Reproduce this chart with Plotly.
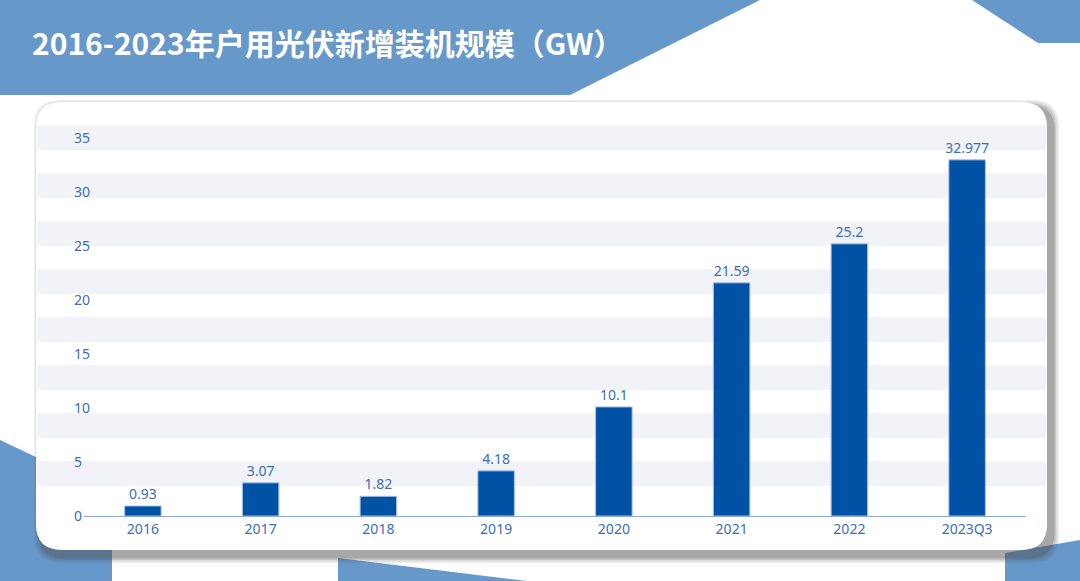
import plotly.graph_objects as go

# ---- data ----
categories = ["2016", "2017", "2018", "2019", "2020", "2021", "2022", "2023Q3"]
values = [0.93, 3.07, 1.82, 4.18, 10.1, 21.59, 25.2, 32.977]
value_labels = ["0.93", "3.07", "1.82", "4.18", "10.1", "21.59", "25.2", "32.977"]
y_ticks = [0, 5, 10, 15, 20, 25, 30, 35]
title_text = "2016-2023年户用光伏新增装机规模（GW）"

W, H = 1080, 581
BANNER = "#6798CA"
BAR = "#0052A5"
TXT = "#3D6DBE"


def px(x):
    return x / W


def py(y):
    return 1 - y / H


def poly(points, color, opacity=1.0):
    d = "M " + " L ".join(f"{px(x)},{py(y)}" for x, y in points) + " Z"
    return dict(type="path", path=d, xref="paper", yref="paper", fillcolor=color,
                line=dict(width=0), layer="below", opacity=opacity)


def rrect(x0, y0, x1, y1, r, color, opacity=1.0):
    rx, ry = r / W, r / H
    X0, X1 = px(x0), px(x1)
    Y0, Y1 = py(y1), py(y0)
    d = (f"M {X0+rx},{Y1} L {X1-rx},{Y1} Q {X1},{Y1} {X1},{Y1-ry} "
         f"L {X1},{Y0+ry} Q {X1},{Y0} {X1-rx},{Y0} "
         f"L {X0+rx},{Y0} Q {X0},{Y0} {X0},{Y0+ry} "
         f"L {X0},{Y1-ry} Q {X0},{Y1} {X0+rx},{Y1} Z")
    return dict(type="path", path=d, xref="paper", yref="paper", fillcolor=color,
                line=dict(width=0), layer="below", opacity=opacity)


shapes = []
# background blue decorations
shapes.append(poly([(0, 0), (760, 0), (570, 95), (0, 95)], BANNER))
shapes.append(poly([(972, 0), (1080, 0), (1080, 43), (1038, 43)], BANNER))
shapes.append(poly([(0, 440), (112, 493), (112, 581), (0, 581)], BANNER))
shapes.append(poly([(338, 558), (527, 581), (338, 581)], BANNER))
shapes.append(poly([(1005, 553), (1080, 540), (1080, 581), (1005, 581)], BANNER))

# card shadow
for i, op in enumerate([0.10, 0.12, 0.16, 0.24]):
    g = 6 - i * 1.5
    shapes.append(rrect(36 + 4 - g, 102 + 4 - g, 1047 + 6 + g, 550 + 7 + g, 26, "#505050", op))
# card
shapes.append(rrect(36, 102, 1047, 550, 26, "#FFFFFF"))
# stripes
for k in range(8):
    top = 125 + k * 48
    shapes.append(dict(type="rect", xref="paper", yref="paper",
                       x0=px(37), x1=px(1046), y0=py(top + 25), y1=py(top),
                       fillcolor="#F2F3F8", line=dict(width=0), layer="below"))

baseline_px = 516
unit = 10.8
y_top_val = 36
y_low_val = -1.3
y_top_px = baseline_px - y_top_val * unit
y_bot_px = baseline_px - y_low_val * unit

fig = go.Figure()
fig.add_trace(go.Bar(
    x=categories, y=values, text=value_labels, textposition="outside",
    texttemplate="%{text}", constraintext="none",
    textfont=dict(size=14, color=TXT, family="Noto Sans, sans-serif"),
    marker=dict(color=BAR, line=dict(color="#A9C1E8", width=1)),
    cliponaxis=False, width=0.31, hoverinfo="skip",
))

fig.update_layout(
    width=W, height=H, autosize=False,
    margin=dict(l=0, r=0, t=0, b=0, autoexpand=False),
    paper_bgcolor="#FFFFFF", plot_bgcolor="rgba(0,0,0,0)",
    shapes=shapes, showlegend=False,
    font=dict(family="Noto Sans, sans-serif"),
    xaxis=dict(domain=[px(84), px(1026)], anchor="free", position=py(baseline_px),
               showline=True, linecolor="#8EA9DB", linewidth=1,
               showgrid=False, zeroline=False, ticks="",
               tickfont=dict(size=14, color=TXT), fixedrange=True),
    yaxis=dict(domain=[py(y_bot_px), py(y_top_px)], range=[y_low_val, y_top_val],
               anchor="free", position=px(70), ticklabelposition="inside",
               tickvals=y_ticks, ticktext=[str(v) for v in y_ticks],
               showgrid=False, zeroline=False, showline=False, ticks="",
               tickfont=dict(size=14, color=TXT), fixedrange=True),
    annotations=[dict(text=title_text, xref="paper", yref="paper",
                      x=px(30), y=py(42), xanchor="left", yanchor="middle",
                      showarrow=False,
                      font=dict(family="Noto Sans CJK SC", size=30, color="#FFFFFF",
                                weight="bold"))],
)

fig.write_html("out.html", config={"displayModeBar": False},
               post_script="document.body.style.margin='0';")
